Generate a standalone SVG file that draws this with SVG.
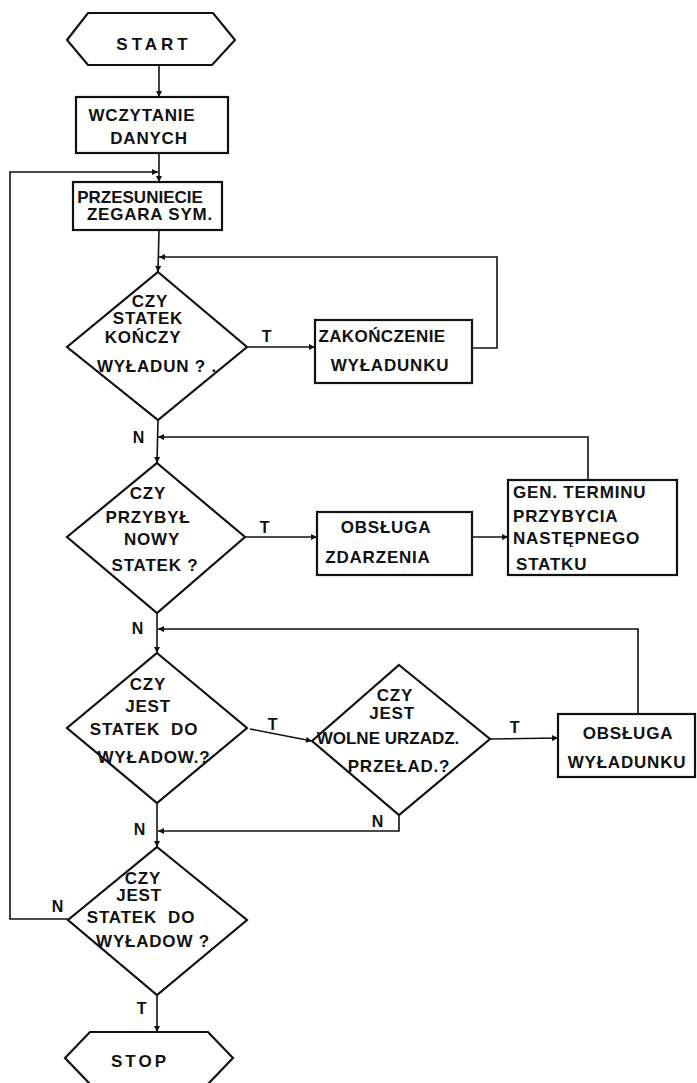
<svg xmlns="http://www.w3.org/2000/svg" width="697" height="1083" viewBox="0 0 697 1083">
  <defs>
    <marker id="arrow" viewBox="0 0 10 10" refX="10" refY="5" markerWidth="7" markerHeight="6" markerUnits="userSpaceOnUse" orient="auto">
      <path d="M0,0 L10,5 L0,10 z" fill="#111"/>
    </marker>
    <style>
      .shape { fill: none; stroke: #111; stroke-width: 2.2; stroke-linejoin: miter; }
      .wire { fill: none; stroke: #111; stroke-width: 1.6; }
      .wire.arr { marker-end: url(#arrow); }
      text { font-family: "Liberation Sans", Arial, sans-serif; font-weight: bold; font-size: 17px; fill: #111; letter-spacing: 0.8px; }
      .c { text-anchor: middle; }
      .lbl { font-size: 16px; }
    </style>
  </defs>
  <rect width="697" height="1083" fill="#fff"/>

  <!-- connectors -->
  <g id="connectors">
    <path class="wire arr" d="M159,65 L159,97"/>
    <path class="wire arr" d="M159,153 L159,182"/>
    <path class="wire arr" d="M68,919 L10,919 L10,172 L158,172"/>
    <path class="wire arr" d="M159,230 L158,272"/>
    <path class="wire arr" d="M247,347 L315,347"/>
    <path class="wire arr" d="M472,348 L497,348 L497,257 L159,257"/>
    <path class="wire arr" d="M158,420 L157,463"/>
    <path class="wire arr" d="M588,480 L588,437 L158,437"/>
    <path class="wire arr" d="M245,537 L317,537"/>
    <path class="wire arr" d="M472,537 L508,537"/>
    <path class="wire arr" d="M157,613 L157,653"/>
    <path class="wire arr" d="M638,714 L638,629 L158,629"/>
    <path class="wire arr" d="M250,729 L312,741"/>
    <path class="wire arr" d="M490,739 L558,738"/>
    <path class="wire arr" d="M399,815 L399,831 L158,831"/>
    <path class="wire arr" d="M157,803 L157,847"/>
    <path class="wire arr" d="M157,995 L157,1032"/>
    <!-- branch labels -->
    <text class="lbl c" x="267" y="342">T</text>
    <text class="lbl c" x="139" y="443">N</text>
    <text class="lbl c" x="265" y="533">T</text>
    <text class="lbl c" x="138" y="634">N</text>
    <text class="lbl c" x="273" y="730">T</text>
    <text class="lbl c" x="140" y="835">N</text>
    <text class="lbl c" x="515" y="733">T</text>
    <text class="lbl c" x="378" y="827">N</text>
    <text class="lbl c" x="58" y="912">N</text>
    <text class="lbl c" x="142" y="1014">T</text>
  </g>

  <g id="start">
    <polygon class="shape" points="88,13 213,13 235,40 212,65 88,65 67,40"/>
    <text class="c" x="154" y="50" style="letter-spacing:4px">START</text>
  </g>

  <g id="read-data">
    <rect class="shape" x="76" y="97" width="152" height="56"/>
    <text class="c" x="142" y="121">WCZYTANIE</text>
    <text class="c" x="149" y="144">DANYCH</text>
  </g>

  <g id="advance-clock">
    <rect class="shape" x="73" y="182" width="149" height="48"/>
    <text class="c" x="140" y="203" style="letter-spacing:0px">PRZESUNIECIE</text>
    <text class="c" x="150" y="220">ZEGARA SYM.</text>
  </g>

  <g id="dec-unload-end">
    <polygon class="shape" points="158,272 247,347 158,420 67,347"/>
    <text class="c" x="150" y="307">CZY</text>
    <text class="c" x="148" y="324">STATEK</text>
    <text class="c" x="143" y="343">KOŃCZY</text>
    <text class="c" x="157" y="372">WYŁADUN ? .</text>
  </g>

  <g id="end-unload">
    <rect class="shape" x="315" y="320" width="157" height="63"/>
    <text class="c" x="382" y="342" style="letter-spacing:0.4px">ZAKOŃCZENIE</text>
    <text class="c" x="390" y="371">WYŁADUNKU</text>
  </g>

  <g id="dec-arrival">
    <polygon class="shape" points="157,463 245,537 157,613 67,537"/>
    <text class="c" x="148" y="499">CZY</text>
    <text class="c" x="148" y="523">PRZYBYŁ</text>
    <text class="c" x="152" y="545">NOWY</text>
    <text class="c" x="155" y="571">STATEK ?</text>
  </g>

  <g id="handle-event">
    <rect class="shape" x="317" y="512" width="155" height="63"/>
    <text class="c" x="386" y="533">OBSŁUGA</text>
    <text class="c" x="378" y="563">ZDARZENIA</text>
  </g>

  <g id="gen-arrival">
    <rect class="shape" x="508" y="480" width="169" height="95"/>
    <text x="513" y="498">GEN. TERMINU</text>
    <text x="513" y="522">PRZYBYCIA</text>
    <text x="513" y="544">NASTĘPNEGO</text>
    <text x="516" y="570">STATKU</text>
  </g>

  <g id="dec-ship-waiting">
    <polygon class="shape" points="157,653 247,728 157,803 67,728"/>
    <text class="c" x="148" y="690">CZY</text>
    <text class="c" x="148" y="712">JEST</text>
    <text class="c" x="144" y="735" xml:space="preserve">STATEK  DO</text>
    <text class="c" x="154" y="763">WYŁADOW.?</text>
  </g>

  <g id="dec-free-crane">
    <polygon class="shape" points="399,665 490,739 399,815 312,741"/>
    <text class="c" x="395" y="701">CZY</text>
    <text class="c" x="392" y="719">JEST</text>
    <text class="c" x="388" y="744" style="letter-spacing:0px">WOLNE URZADZ.</text>
    <text class="c" x="399" y="772">PRZEŁAD.?</text>
  </g>

  <g id="unloading">
    <rect class="shape" x="558" y="714" width="137" height="63"/>
    <text class="c" x="628" y="739">OBSŁUGA</text>
    <text class="c" x="627" y="768">WYŁADUNKU</text>
  </g>

  <g id="dec-any-ship">
    <polygon class="shape" points="157,847 247,920 157,995 68,920"/>
    <text class="c" x="143" y="884">CZY</text>
    <text class="c" x="139" y="901">JEST</text>
    <text class="c" x="141" y="923" xml:space="preserve">STATEK  DO</text>
    <text class="c" x="153" y="947">WYŁADOW ?</text>
  </g>

  <g id="stop">
    <polygon class="shape" points="90,1032 208,1032 233,1058 208,1084 90,1084 65,1058"/>
    <text class="c" x="140" y="1067" style="letter-spacing:3px">STOP</text>
  </g>
</svg>
